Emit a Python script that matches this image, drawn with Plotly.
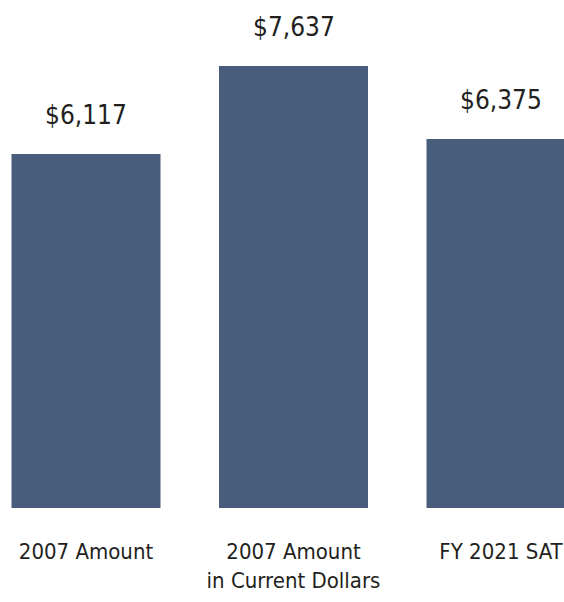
import plotly.graph_objects as go

categories = ["2007 Amount", "2007 Amount<br>in Current Dollars", "FY 2021 SAT"]
values = [6117, 7637, 6375]
value_labels = ["$6,117", "$7,637", "$6,375"]

BAR = "#485d7b"
TXT = "#231f20"
FONT = "DejaVu Sans Condensed, Liberation Sans Narrow, sans-serif"

fig = go.Figure(go.Bar(
    x=list(range(len(categories))), y=values,
    marker=dict(color=BAR, line=dict(width=0)),
    width=0.718, hoverinfo="skip",
))

for i, (v, t) in enumerate(zip(values, value_labels)):
    fig.add_annotation(x=i, y=v, text=t, showarrow=False, xanchor="center",
                       yanchor="bottom", yshift=22,
                       font=dict(family=FONT, size=26, color=TXT))

fig.update_layout(
    width=564, height=602,
    margin=dict(l=0, r=0, t=0, b=94, autoexpand=False),
    paper_bgcolor="white", plot_bgcolor="white",
    showlegend=False,
    xaxis=dict(range=[-0.4145, 2.3036], tickmode="array",
               tickvals=list(range(len(categories))), ticktext=categories,
               showgrid=False, zeroline=False, showline=False, automargin=False,
               ticks="", ticklabelstandoff=28, ticklabeloverflow="allow",
               tickfont=dict(family=FONT, size=22, color=TXT)),
    yaxis=dict(range=[0, 8777], visible=False, showgrid=False, zeroline=False,
               automargin=False),
)

fig.write_html("out.html", config={"displayModeBar": False},
               post_script="document.body.style.margin='0';document.body.style.overflow='hidden';")
